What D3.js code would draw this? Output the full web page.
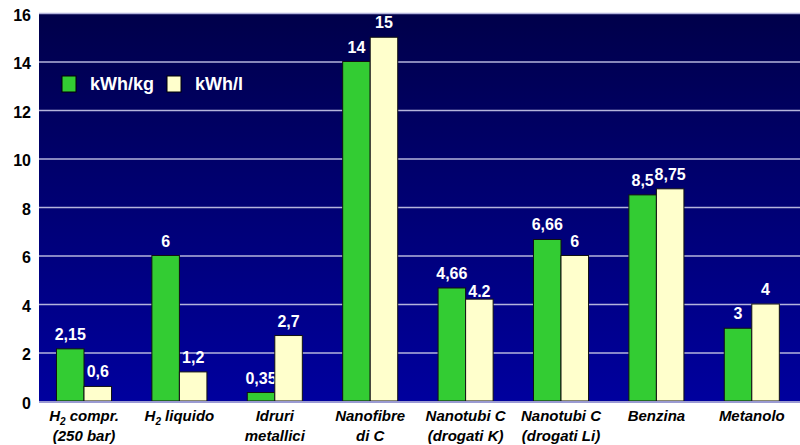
<!DOCTYPE html>
<html>
<head>
<meta charset="utf-8">
<script src="https://cdn.jsdelivr.net/npm/d3@7"></script>
<style>
    body { margin: 0; background: #fff; }
    .chart svg { display: block; font-family: "Liberation Sans", Arial, sans-serif; }
</style>
</head>
<body>
<div class="chart"></div>
<script>
const categories = ["H2 compr.\n(250 bar)", "H2 liquido", "Idruri\nmetallici", "Nanofibre\ndi C",
    "Nanotubi C\n(drogati K)", "Nanotubi C\n(drogati Li)", "Benzina", "Metanolo"];
const seriesNames = ["kWh/kg", "kWh/l"];
const kwhKg = [2.15, 6, 0.35, 14, 4.66, 6.66, 8.5, 3];
const kwhL = [0.6, 1.2, 2.7, 15, 4.2, 6, 8.75, 4];
const labelsKg = ["2,15", "6", "0,35", "14", "4,66", "6,66", "8,5", "3"];
const labelsL = ["0,6", "1,2", "2,7", "15", "4.2", "6", "8,75", "4"];
const yTicks = [0, 2, 4, 6, 8, 10, 12, 14, 16];

function drawChart() {
    const w = 800;
    const h = 445;
    const plot = { left: 39, right: 800, top: 13, bottom: 401 };
    const colors = ["#33cc33", "#ffffcc"];

    const svg = d3.select(".chart")
        .append("svg")
        .attr("width", w)
        .attr("height", h);

    const grad = svg.append("defs").append("linearGradient")
        .attr("id", "bg").attr("x1", 0).attr("y1", 0).attr("x2", 0).attr("y2", 1);
    grad.append("stop").attr("offset", "0%").attr("stop-color", "#00004a");
    grad.append("stop").attr("offset", "100%").attr("stop-color", "#00009e");

    const yScale = d3.scaleLinear()
        .domain([0, 16])
        .range([plot.bottom, plot.top]);

    const x0 = d3.scaleBand()
        .domain(categories)
        .range([36.3, 799.5])
        .paddingInner(0.423)
        .paddingOuter(0.2115);

    const x1 = d3.scaleBand()
        .domain(seriesNames)
        .range([0, x0.bandwidth()]);

    svg.append("rect")
        .attr("x", plot.left)
        .attr("y", plot.top)
        .attr("width", plot.right - plot.left)
        .attr("height", plot.bottom - plot.top)
        .attr("fill", "url(#bg)");

    // gridlines
    svg.append("g")
        .attr("transform", "translate(" + plot.left + ",0)")
        .call(d3.axisLeft(yScale).tickValues(yTicks.slice(1)).tickSize(-(plot.right - plot.left)).tickFormat(""))
        .call(g => g.select(".domain").remove())
        .call(g => g.selectAll("line").attr("stroke", "#b4b4dc").attr("stroke-width", 1.5));

    // y tick labels
    svg.append("g")
        .attr("transform", "translate(31,0)")
        .call(d3.axisLeft(yScale).tickValues(yTicks).tickSize(0).tickPadding(0).tickFormat(d3.format("d")))
        .call(g => g.select(".domain").remove())
        .call(g => g.selectAll("text")
            .attr("fill", "#000")
            .attr("font-size", 16)
            .attr("font-weight", "bold")
            .attr("font-family", "Liberation Sans, Arial, sans-serif")
            .attr("dy", "0.45em"));

    const series = [kwhKg, kwhL];
    const labels = [labelsKg, labelsL];

    series.forEach((vals, s) => {
        const g = svg.append("g");
        g.selectAll("rect")
            .data(vals)
            .enter()
            .append("rect")
            .attr("x", (d, i) => x0(categories[i]) + x1(seriesNames[s]))
            .attr("y", d => yScale(d))
            .attr("width", x1.bandwidth())
            .attr("height", d => yScale(0) - yScale(d))
            .attr("fill", colors[s])
            .attr("stroke", "#111")
            .attr("stroke-width", 1);

        g.selectAll("text")
            .data(vals)
            .enter()
            .append("text")
            .attr("x", (d, i) => x0(categories[i]) + x1(seriesNames[s]) + x1.bandwidth() / 2)
            .attr("y", (d, i) => yScale(d) - (labels[s][i] === "4.2" ? 2 : 9))
            .attr("text-anchor", "middle")
            .attr("fill", "#fff")
            .attr("font-size", 16)
            .attr("font-weight", "bold")
            .text((d, i) => labels[s][i]);
    });

    // bottom axis line
    svg.append("line")
        .attr("x1", plot.left).attr("x2", plot.right)
        .attr("y1", plot.bottom + 1).attr("y2", plot.bottom + 1)
        .attr("stroke", "#9a9ad2").attr("stroke-width", 2);

    // category labels
    const xAxis = svg.append("g")
        .attr("transform", "translate(0," + plot.bottom + ")")
        .call(d3.axisBottom(x0).tickSize(0).tickFormat(""))
        .call(g => g.select(".domain").remove());

    xAxis.selectAll(".tick").each(function (d) {
        const lines = d.split("\n");
        const t = d3.select(this).append("text")
            .attr("fill", "#000")
            .attr("font-size", 15)
            .attr("font-weight", "bold")
            .attr("font-style", "italic")
            .attr("font-family", "Liberation Sans, Arial, sans-serif")
            .attr("text-anchor", "middle");
        lines.forEach((line, k) => {
            const y = 20 + k * 20;
            if (line.startsWith("H2")) {
                t.append("tspan").attr("x", -4).attr("y", y).text("");
                const row = d3.select(this).append("text")
                    .attr("fill", "#000")
                    .attr("font-size", 15)
                    .attr("font-weight", "bold")
                    .attr("font-style", "italic")
                    .attr("font-family", "Liberation Sans, Arial, sans-serif")
                    .attr("text-anchor", "middle")
                    .attr("y", y);
                row.append("tspan").text("H");
                row.append("tspan").attr("font-size", 10).attr("dy", 4).text("2");
                row.append("tspan").attr("dy", -4).text(line.slice(2));
            } else {
                t.append("tspan").attr("x", 0).attr("y", y).text(line);
            }
        });
    });

    // legend
    const legend = svg.append("g");
    const legendX = [62, 167];
    seriesNames.forEach((name, s) => {
        legend.append("rect")
            .attr("x", legendX[s]).attr("y", 76)
            .attr("width", 14).attr("height", 16)
            .attr("fill", colors[s]).attr("stroke", "#000").attr("stroke-width", 1);
        legend.append("text")
            .attr("x", legendX[s] + 28).attr("y", 90)
            .attr("fill", "#fff")
            .attr("font-size", 18)
            .attr("font-weight", "bold")
            .text(name);
    });
}

drawChart();
</script>
</body>
</html>
